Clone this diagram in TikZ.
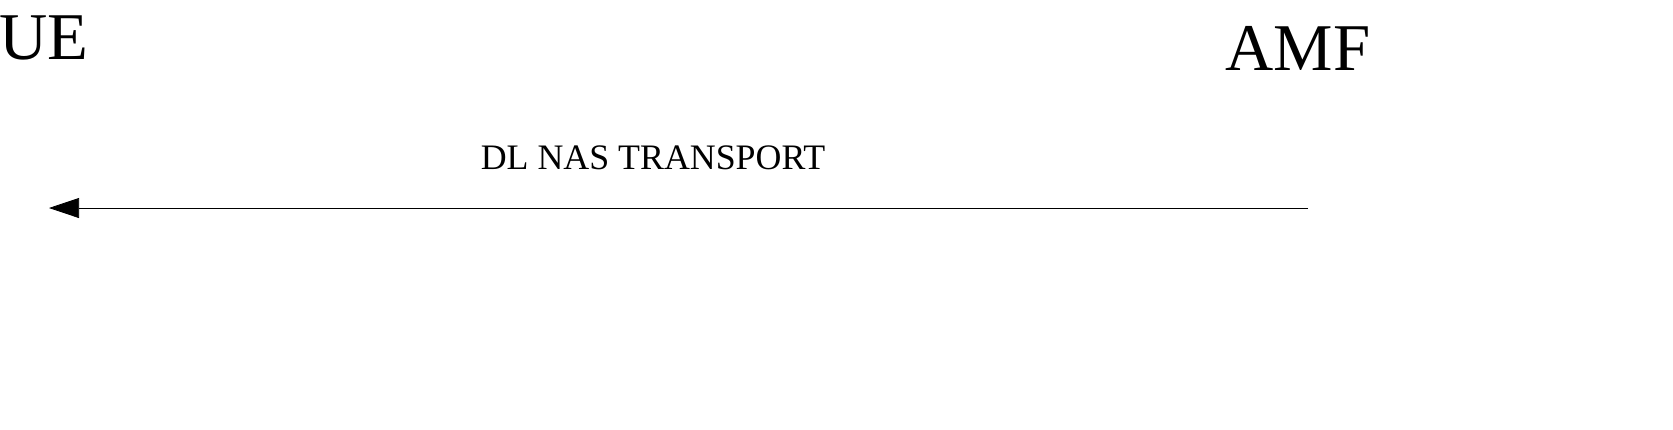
\documentclass[tikz,border=0pt]{standalone}
\usepackage{fontspec}
\setmainfont{Liberation Serif}
\usetikzlibrary{arrows.meta}
\begin{document}
\begin{tikzpicture}[x=0.1mm,y=0.1mm]
\tikzstyle{every node}+=[inner sep=0pt]
\tikzset{entity/.style={anchor=base,font=\fontsize{19pt}{23pt}\selectfont},
msglabel/.style={anchor=base,font=\fontsize{10.2pt}{12pt}\selectfont},
msgline/.style={line width=0.2pt,-{Triangle[length=3mm,width=2mm]}}}
\useasboundingbox (0,0) rectangle (1673,-429);
\node [entity] (ue) at (44,-59) {UE};
\node [entity] (amf) at (1298,-70) {AMF};
\coordinate (amf-out) at (1308,-208);
\coordinate (ue-in) at (49,-208);
\draw [msgline] (amf-out) -- (ue-in);
\node [msglabel] (msg) at (653,-169) {DL NAS TRANSPORT};
\end{tikzpicture}
\end{document}
